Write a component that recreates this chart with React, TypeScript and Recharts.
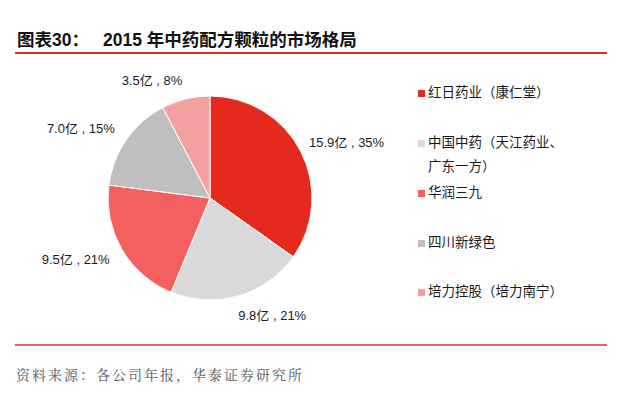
import { PieChart, Pie, Cell, Legend } from 'recharts'

const companies = ['红日药业（康仁堂）', '中国中药（天江药业、广东一方）', '华润三九', '四川新绿色', '培力控股（培力南宁）']
const revenue = [15.9, 9.8, 9.5, 7.0, 3.5]
const shares = ['35%', '21%', '21%', '15%', '8%']
const colors = ['#E42A1C', '#D9D9D9', '#F46060', '#BFBFBF', '#F5A0A0']

const data = companies.map((name, i) => ({ name, value: revenue[i], share: shares[i] }))

const RAD = Math.PI / 180
const FONT = '"Liberation Sans", Arial, "Noto Sans CJK SC", sans-serif'

function renderLabel(p: any) {
  const cos = Math.cos(-p.midAngle * RAD)
  const sin = Math.sin(-p.midAngle * RAD)
  const r = p.outerRadius + 14
  const x = p.cx + r * cos - (cos >= 0 ? 4 : 0)
  const y = p.cy + r * sin + sin * 6
  return (
    <text x={x} y={y} dy={5} fill="#1a1a1a" fontSize={13} fontFamily={FONT}
          textAnchor={cos >= 0 ? 'start' : 'end'}>
      {`${p.payload.value.toFixed(1)}亿 , ${p.payload.share}`}
    </text>
  )
}

function LegendBox() {
  const rows = [
    { i: 0, top: 84 },
    { i: 1, top: 134 },
    { i: 2, top: 184 },
    { i: 3, top: 234 },
    { i: 4, top: 283 },
  ]
  return (
    <div style={{ position: 'relative', width: 220, height: 397 }}>
      {rows.map(({ i, top }) => (
        <div key={i} style={{ position: 'absolute', left: 0, top, display: 'flex', alignItems: 'flex-start' }}>
          <span style={{ width: 7, height: 7, background: colors[i], marginTop: 6, marginRight: 3, flexShrink: 0 }} />
          <span style={{ fontSize: 13.5, lineHeight: '24px', marginTop: -5, color: '#1a1a1a', width: i === 1 ? 140 : 200,
                         fontFamily: '"Noto Sans CJK SC", sans-serif' }}>
            {companies[i]}
          </span>
        </div>
      ))}
    </div>
  )
}

export default function App() {
  return (
    <div style={{ position: 'absolute', left: 0, top: 0, width: 640, height: 397, background: '#fff', overflow: 'hidden' }}>
      <div style={{ position: 'absolute', left: 17, top: 26, fontSize: 17.5, fontWeight: 'bold', color: '#111',
                    fontFamily: '"Liberation Sans", Arial, "Noto Sans CJK SC", sans-serif', whiteSpace: 'pre' }}>
        <span>图表30：</span>
        <span style={{ marginLeft: 14 }}>2015 年中药配方颗粒的市场格局</span>
      </div>
      <div style={{ position: 'absolute', left: 15, top: 52, width: 592, height: 1.5, background: '#D9312B' }} />

      <PieChart width={640} height={397} style={{ position: 'absolute', left: 0, top: 0 }}>
        <Pie data={data} dataKey="value" nameKey="name" cx={205} cy={193} outerRadius={102}
             startAngle={90} endAngle={-270} stroke="#fff" strokeWidth={1}
             label={renderLabel} labelLine={false} isAnimationActive={false}>
          {data.map((d, i) => <Cell key={d.name} fill={colors[i]} />)}
        </Pie>
        <Legend layout="vertical" align="right" verticalAlign="top" content={() => <LegendBox />}
                wrapperStyle={{ left: 418, top: 0, width: 220 }} />
      </PieChart>

      <div style={{ position: 'absolute', left: 15, top: 344, width: 592, height: 1.5, background: '#E46464' }} />
      <div style={{ position: 'absolute', left: 16, top: 364, fontSize: 14, color: '#555',
                    fontFamily: '"Noto Serif CJK SC", "Noto Sans CJK SC", serif', letterSpacing: 2 }}>
        资料来源：各公司年报，华泰证券研究所
      </div>
    </div>
  )
}
